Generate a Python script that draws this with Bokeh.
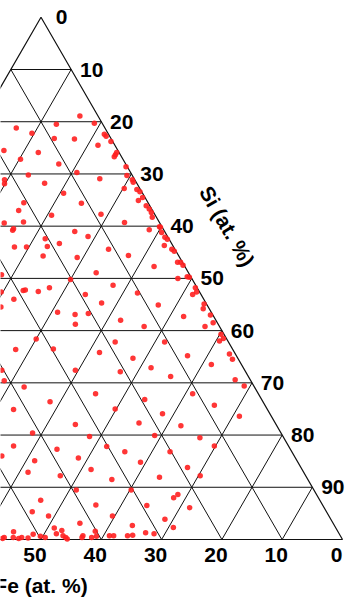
import numpy as np
from bokeh.plotting import figure
from bokeh.models import ColumnDataSource
from bokeh.core.properties import value
from bokeh.embed import file_html
from bokeh.resources import INLINE

# ---- data ----
tick_values = [0, 10, 20, 30, 40, 50, 60, 70, 80, 90]
si_tick_labels = ["0", "10", "20", "30", "40", "50", "60", "70", "80", "90"]
fe_tick_values = [0, 10, 20, 30, 40, 50]
fe_tick_labels = ["0", "10", "20", "30", "40", "50"]
fe_title = "Fe (at. %)"
si_title = "Si (at. %)"

fe_pts = [3.0, 14.7, 7.7, 1.3, 12.6, 9.4, 6.1, 0.7, 0.6, 0.3, 2.8, 18.9, 13.4, 0.4, 0.8, 1.2, 17.0, 11.1, 0.2, 8.9,
          17.2, 21.6, 22.0, 5.7, 15.3, 13.1, 2.6, 20.6, 11.1, 22.2, 8.9, 17.2, 25.8, 22.5, 5.8, 24.8, 25.1, 14.9, 13.2, 20.5,
          18.6, 20.9, 26.4, 24.4, 11.0, 0.9, 0.4, 0.5, 0.6, 0.3, 0.4, 1.4, 0.6, 0.4, 0.4, 0.7, 0.4, 0.3, 2.4, 0.6,
          0.5, 0.3, 1.4, 0.5, 22.5, 17.0, 31.2, 15.3, 20.2, 24.5, 29.1, 28.7, 26.7, 13.7, 32.9, 19.2, 31.5, 17.3, 34.4, 25.5,
          22.8, 20.5, 15.8, 23.7, 31.6, 18.8, 36.0, 29.7, 22.4, 40.3, 28.1, 20.8, 40.9, 38.2, 27.0, 0.3, 8.3, 0.8, 0.3, 0.2,
          5.1, 2.3, 0.6, 0.3, 10.4, 0.3, 0.5, 1.4, 8.1, 0.4, 1.0, 5.0, 0.4, 0.7, 12.5, 2.4, 0.5, 0.5, 1.4, 10.6,
          8.1, 1.0, 17.4, 1.0, 5.0, 15.3, 12.9, 2.5, 1.6, 10.9, 35.3, 42.1, 25.2, 33.3, 41.2, 32.1, 45.6, 30.2, 38.7, 48.5,
          36.0, 27.7, 43.5, 35.0, 45.7, 40.7, 32.5, 39.4, 46.3, 37.6, 48.8, 46.5, 35.9, 42.0, 46.7, 45.7, 53.8, 46.9, 40.2, 50.8,
          46.0, 42.7, 55.9, 56.3, 54.4, 53.0, 53.6, 52.0, 49.8, 49.1, 45.7, 45.6, 43.0, 41.4, 40.5, 38.3, 37.6, 19.4, 8.4, 17.8,
          5.3, 22.6, 15.9, 21.2, 13.9, 20.2, 12.3, 26.1, 18.8, 17.5, 24.4, 30.3, 23.0, 24.0, 29.2, 22.3, 27.5, 33.5, 26.9, 32.0,
          30.7, 35.3, 34.4]
si_pts = [18.9, 21.2, 20.5, 20.3, 22.2, 23.2, 23.3, 22.4, 22.8, 23.8, 24.5, 25.5, 25.9, 25.9, 26.3, 26.7, 27.2, 28.1, 28.6, 29.7,
          30.2, 31.1, 31.9, 30.9, 31.8, 33.7, 32.8, 35.5, 35.6, 37.0, 37.7, 37.9, 39.4, 39.2, 39.3, 40.5, 40.8, 41.0, 42.0, 42.4,
          43.3, 43.9, 44.0, 44.0, 44.4, 30.3, 31.1, 31.6, 33.0, 33.4, 34.5, 35.1, 36.1, 36.7, 37.4, 38.3, 40.1, 40.2, 40.7, 41.2,
          42.1, 42.5, 43.7, 44.4, 45.7, 46.0, 49.3, 48.9, 50.2, 51.8, 52.3, 52.2, 52.5, 51.3, 52.6, 53.1, 54.0, 54.7, 55.5, 56.5,
          56.9, 56.7, 58.0, 58.8, 61.6, 62.2, 63.6, 63.5, 64.2, 67.6, 67.6, 67.9, 69.6, 70.8, 72.1, 44.8, 45.6, 46.9, 46.9, 47.5,
          47.7, 50.0, 49.7, 49.8, 52.8, 51.8, 52.6, 53.1, 55.1, 54.9, 55.8, 57.3, 57.0, 58.5, 59.2, 59.2, 60.7, 61.5, 62.0, 62.2,
          64.8, 64.5, 65.3, 65.5, 66.5, 67.1, 68.8, 69.4, 70.6, 72.1, 73.6, 75.1, 75.0, 78.0, 79.6, 80.3, 82.1, 82.2, 82.7, 84.0,
          84.4, 83.2, 84.9, 86.6, 87.1, 87.8, 88.5, 90.5, 92.5, 93.4, 94.7, 95.5, 95.5, 96.9, 97.8, 98.3, 98.5, 98.9, 98.4, 99.0,
          99.3, 99.3, 99.6, 99.8, 99.6, 99.6, 99.8, 99.7, 99.4, 99.6, 99.6, 99.9, 99.6, 99.6, 99.4, 99.3, 99.3, 73.2, 74.3, 75.9,
          76.4, 77.7, 78.2, 80.1, 80.5, 83.2, 82.1, 85.2, 86.2, 87.8, 88.1, 90.5, 91.4, 92.0, 93.5, 93.9, 96.1, 97.3, 97.7, 98.7,
          98.9, 99.3, 99.2]

# ---- geometry ----
H = np.sqrt(3) / 2


def tern(fe, si):
    fe = np.asarray(fe, dtype=float)
    si = np.asarray(si, dtype=float)
    return 50 - fe + si / 2, H * (100 - si)


W, HT = 354, 599
SCALE = 6.03  # pixels per composition unit
X0 = 43.284
Y1 = 89.386
X1 = X0 + W / SCALE
Y0 = Y1 - HT / SCALE
PX = W / (X1 - X0)

p = figure(width=W, height=HT, x_range=(X0, X1), y_range=(Y0, Y1),
           output_backend="svg", toolbar_location=None, min_border=0,
           background_fill_color="white", border_fill_color="white")
p.axis.visible = False
p.grid.visible = False
p.outline_line_color = None

t = np.array(tick_values[1:], dtype=float)
zeros = np.zeros_like(t)
hund = np.full_like(t, 100.0)

# horizontal lines (Si constant)
ax, ay = tern(t, t)
bx, by = tern(zeros, t)
# lines parallel to right edge (Fe constant)
cx, cy = tern(t, hund)
dx, dy = tern(t, t)
# lines parallel to left edge
ex, ey = tern(t, hund)
fx, fy = tern(zeros, 100 - t)

seg = ColumnDataSource(dict(
    x0=np.concatenate([ax, cx, ex]), y0=np.concatenate([ay, cy, ey]),
    x1=np.concatenate([bx, dx, fx]), y1=np.concatenate([by, dy, fy])))
p.segment("x0", "y0", "x1", "y1", source=seg, line_color="#111111", line_width=1)

ox, oy = tern([0, 0, 100, 0], [0, 100, 100, 0])
p.line(ox, oy, line_color="#111111", line_width=1.2)

# points
px_, py_ = tern(fe_pts, si_pts)
p.scatter(px_, py_, size=5.5, fill_color="#ff2020", fill_alpha=0.9, line_color=None)

font = value("Liberation Sans")

# right (Si) tick labels
rx, ry = tern(np.zeros(len(tick_values)), tick_values)
p.text(rx, ry, text=si_tick_labels, x_offset=20.5, y_offset=0,
       text_align="center", text_baseline="middle", text_font=font,
       text_font_style="bold", text_font_size="21px", text_color="black")

# bottom (Fe) tick labels
lx, ly = tern(fe_tick_values, np.full(len(fe_tick_values), 100.0))
p.text(lx, ly, text=fe_tick_labels, x_offset=-6, y_offset=16,
       text_align="center", text_baseline="middle", text_font=font,
       text_font_style="bold", text_font_size="21px", text_color="black")

# axis titles
tx, ty = tern([50], [100])
p.text(tx, ty, text=[fe_title], x_offset=0, y_offset=46,
       text_align="center", text_baseline="middle", text_font=font,
       text_font_style="bold", text_font_size="21px", text_color="black")

sx, sy = tern([0], [40])
p.text(sx + 65.6 / PX, sy, text=[si_title], angle=-np.pi / 3,
       text_align="center", text_baseline="middle", text_font=font,
       text_font_style="bold", text_font_size="21px", text_color="black")

html = file_html(p, INLINE)
open("out.html", "w").write(html)
